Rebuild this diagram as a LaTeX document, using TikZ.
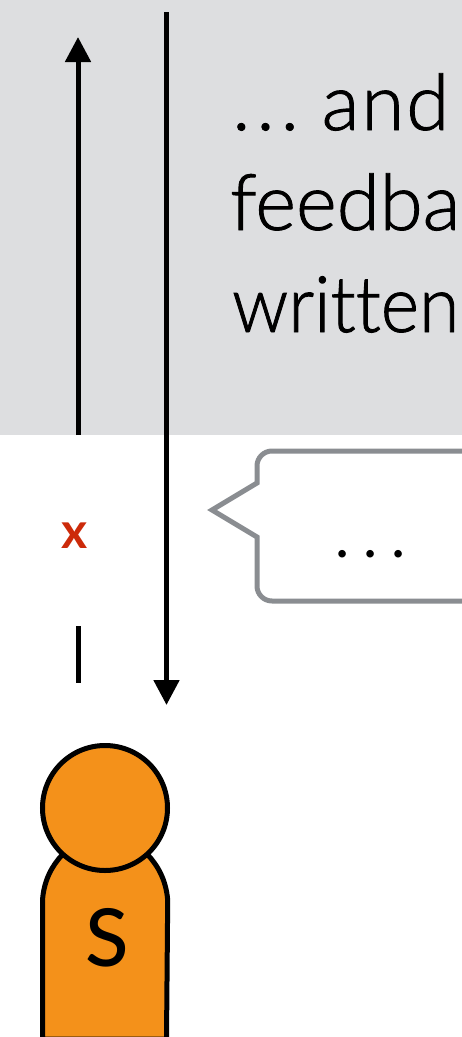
\documentclass[tikz,border=0pt]{standalone}
\usepackage{fontspec}
\setmainfont{Lato}[Ligatures=NoCommon]
\newfontfamily\lightface{Lato Light}[Ligatures=NoCommon,RawFeature={embolden=1.2}]
\newfontfamily\mediumface{Lato Medium}
\usetikzlibrary{arrows.meta}
\definecolor{bggray}{HTML}{DDDEE0}
\definecolor{bubblegray}{HTML}{8A8D91}
\definecolor{personorange}{HTML}{F4911A}
\definecolor{crossred}{HTML}{CC2A0A}
\tikzset{
  flow/.style={line width=5pt,black,-{Triangle[length=25pt,width=25pt]}},
  flowplain/.style={line width=5pt,black},
  bigtext/.style={anchor=base west,inner sep=0pt,font=\lightface\fontsize{78}{78}\selectfont,text=black},
  persona/.style={draw=black,line width=5pt,fill=personorange},
}
\begin{document}
\begin{tikzpicture}[x=1pt,y=-1pt]
\useasboundingbox (0,0) rectangle (462,1037);
\clip (0,0) rectangle (462,1037);
\fill[bggray] (0,0) rectangle (462,435);
\node[bigtext] (t1) at (232,130) {.\hspace{6pt}.\hspace{6pt}. \kern-5.5pt a\kern2pt n\kern2pt d};
\node[bigtext] (t2) at (230,230) {feedba};
\node[bigtext,xscale=0.94] (t3) at (232,332) {written};
% bubble
\draw[draw=bubblegray,line width=5pt,fill=white,miter limit=10]
  [rounded corners=15pt] (480,451) -- (257,451)
  [sharp corners] -- (257,483) -- (212,510) -- (257,537)
  [rounded corners=15pt] -- (257,601) -- (480,601);
\node[anchor=base,inner sep=0pt,font=\fontsize{60}{60}\selectfont] (dots) at (370.5,557) {.\hspace{14pt}.\hspace{14pt}.};
% connectors
\coordinate (upstart) at (78,435);
\coordinate (upend) at (78,37);
\coordinate (downstart) at (166.5,12);
\coordinate (downend) at (166.5,705);
\coordinate (stubtop) at (78,626);
\coordinate (stubbot) at (78,683);
\draw[flow] (upstart) -- (upend);
\draw[flow] (downstart) -- (downend);
\draw[flowplain] (stubtop) -- (stubbot);
\node[inner sep=0pt,font=\bfseries\fontsize{50}{50}\selectfont,text=crossred,anchor=base] (x) at (75,548) {x};
% person
\draw[persona] (42.5,1039) -- (42.5,900) .. controls (44,880) and (52,866) .. (62,855)
  -- (148,855) .. controls (158,866) and (166,880) .. (167.7,900) -- (166.5,1039) -- cycle;
\node[persona,circle,inner sep=0pt,minimum size=125pt,outer sep=0pt] (head) at (105,808) {};
\node[inner sep=0pt,anchor=base,font=\mediumface\fontsize{80}{80}\selectfont] (s) at (107,966) {S};
\end{tikzpicture}
\end{document}
